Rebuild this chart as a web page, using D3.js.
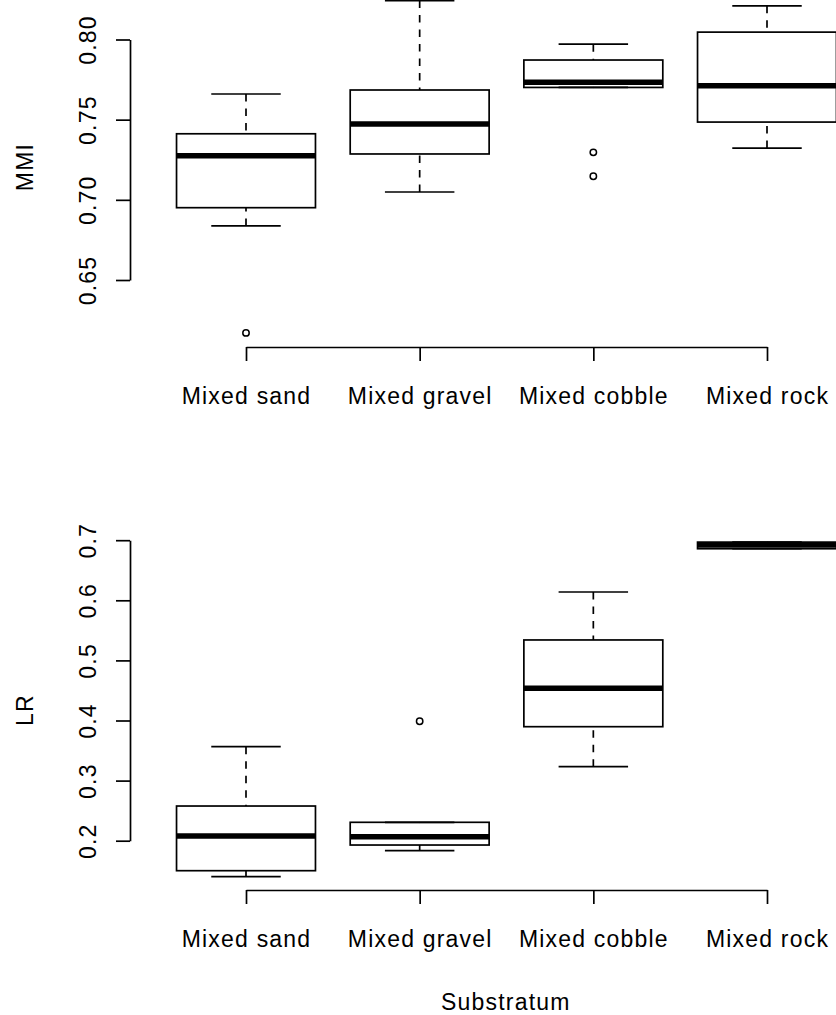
<!DOCTYPE html>
<html>
<head>
<meta charset="utf-8">
<script src="https://cdn.jsdelivr.net/npm/d3@7"></script>
<style>
  html, body { margin: 0; padding: 0; background: #fff; }
  svg { display: block; }
  text { font-family: "Liberation Sans", Arial, sans-serif; font-size: 23px; letter-spacing: 1.2px; fill: #000; }
</style>
</head>
<body>
<svg id="chart" width="836" height="1015"></svg>
<script>
// Substratum categories (shared by both panels)
const categories = ["Mixed sand", "Mixed gravel", "Mixed cobble", "Mixed rock"];

// MMI box statistics per category: [lower whisker, Q1, median, Q3, upper whisker]
const mmiStats = [
  [0.6837, 0.6951, 0.7275, 0.7412, 0.7660],
  [0.7049, 0.7286, 0.7473, 0.7685, 0.8243],
  [0.7701, 0.7701, 0.7734, 0.7872, 0.7971],
  [0.7323, 0.7485, 0.7711, 0.8046, 0.8210]
];
// MMI outliers: [category index, value]
const mmiOutliers = [[0, 0.617], [2, 0.7296], [2, 0.7147]];
const mmiTicks = [0.65, 0.70, 0.75, 0.80];

// LR box statistics per category
const lrStats = [
  [0.1401, 0.1501, 0.2078, 0.2577, 0.3564],
  [0.1834, 0.1928, 0.2067, 0.2306, 0.2306],
  [0.3231, 0.3897, 0.4536, 0.5340, 0.6138],
  [0.6858, 0.6858, 0.6920, 0.6968, 0.6968]
];
const lrOutliers = [[1, 0.3987]];
const lrTicks = [0.2, 0.3, 0.4, 0.5, 0.6, 0.7];

const svg = d3.select("#chart");
const axisX = 130;                  // left edge of the plotting region
const x = d3.scaleLinear().domain([1, 4]).range([246, 767]);
const boxHalf = (x(2) - x(1)) * 0.4;
const capHalf = boxHalf / 2;
const lw = 1.7;

function drawPanel(opts) {
  const { stats, outliers, y, ticks, fmt, xAxisY, ylab, ylabY } = opts;
  const g = svg.append("g");

  // y axis, R style: line from first to last tick, rotated labels
  const yAxis = d3.axisLeft(y).tickValues(ticks).tickFormat(fmt).tickSize(14).tickSizeOuter(0);
  const ya = g.append("g").attr("transform", `translate(${axisX},0)`).call(yAxis);
  ya.selectAll("path, line").attr("stroke", "#000").attr("stroke-width", lw);
  ya.selectAll("text")
    .attr("x", 0).attr("y", 0).attr("dy", null)
    .attr("text-anchor", "middle")
    .attr("transform", "translate(-34,0) rotate(-90)")
    .style("font-size", "23px").style("font-family", "Liberation Sans, Arial, sans-serif");
  ya.attr("font-size", null).attr("font-family", null);

  // x axis with category labels
  const xAxis = d3.axisBottom(x).tickValues([1, 2, 3, 4]).tickFormat(i => categories[i - 1])
    .tickSize(14).tickSizeOuter(0);
  const xa = g.append("g").attr("transform", `translate(0,${xAxisY})`).call(xAxis);
  xa.selectAll("path, line").attr("stroke", "#000").attr("stroke-width", lw);
  xa.selectAll("text").attr("y", 57).attr("dy", null)
    .style("font-size", "23px").style("font-family", "Liberation Sans, Arial, sans-serif");
  xa.attr("font-size", null).attr("font-family", null);

  // y label
  g.append("text")
    .attr("text-anchor", "middle")
    .attr("transform", `translate(33,${ylabY}) rotate(-90)`)
    .text(ylab);

  // boxes
  const boxes = g.selectAll("g.box").data(stats).join("g").attr("class", "box");
  boxes.each(function(s, i) {
    const b = d3.select(this);
    const cx = x(i + 1);
    // whiskers drawn from cap toward hinge
    [[s[0], s[1]], [s[4], s[3]]].forEach(([from, to]) => {
      b.append("line")
        .attr("x1", cx).attr("x2", cx)
        .attr("y1", y(from)).attr("y2", y(to))
        .attr("stroke", "#000").attr("stroke-width", lw)
        .attr("stroke-dasharray", "7.5,7");
      b.append("line")
        .attr("x1", cx - capHalf).attr("x2", cx + capHalf)
        .attr("y1", y(from)).attr("y2", y(from))
        .attr("stroke", "#000").attr("stroke-width", lw);
    });
    b.append("rect")
      .attr("x", cx - boxHalf).attr("width", 2 * boxHalf)
      .attr("y", y(s[3])).attr("height", y(s[1]) - y(s[3]))
      .attr("fill", "none").attr("stroke", "#000").attr("stroke-width", lw);
    b.append("line")
      .attr("x1", cx - boxHalf).attr("x2", cx + boxHalf)
      .attr("y1", y(s[2])).attr("y2", y(s[2]))
      .attr("stroke", "#000").attr("stroke-width", 5.5);
  });

  // outliers
  g.selectAll("circle.out").data(outliers).join("circle").attr("class", "out")
    .attr("cx", d => x(d[0] + 1)).attr("cy", d => y(d[1]))
    .attr("r", 3.2).attr("fill", "none").attr("stroke", "#000").attr("stroke-width", 1.5);
}

drawPanel({
  stats: mmiStats, outliers: mmiOutliers,
  y: d3.scaleLinear().domain([0.65, 0.80]).range([280, 39.5]),
  ticks: mmiTicks, fmt: d3.format(".2f"),
  xAxisY: 347, ylab: "MMI", ylabY: 167
});

drawPanel({
  stats: lrStats, outliers: lrOutliers,
  y: d3.scaleLinear().domain([0.2, 0.7]).range([840.7, 540.2]),
  ticks: lrTicks, fmt: d3.format(".1f"),
  xAxisY: 890, ylab: "LR", ylabY: 710
});

// shared x label
svg.append("text")
  .attr("x", (axisX + 881.6) / 2).attr("y", 1010)
  .attr("text-anchor", "middle")
  .text("Substratum");
</script>
</body>
</html>
